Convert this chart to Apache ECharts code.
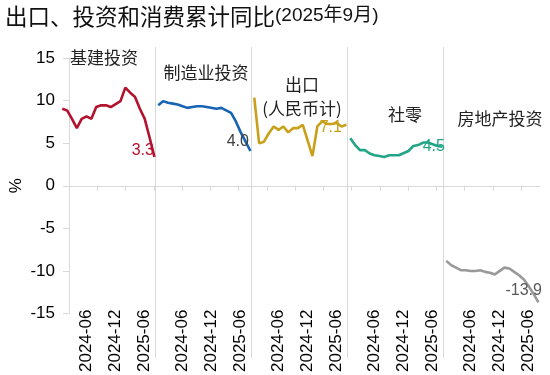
<!DOCTYPE html>
<html><head><meta charset="utf-8">
<script src="https://cdn.jsdelivr.net/npm/echarts@6/dist/echarts.min.js"></script>
<style>html,body{margin:0;padding:0;background:#fff}#c{width:550px;height:375px}</style>
</head><body><div id="c"></div>
<script>
// ---- data ----
const months = ['2024-02','2024-03','2024-04','2024-05','2024-06','2024-07','2024-08','2024-09','2024-10','2024-11','2024-12',
                '2025-02','2025-03','2025-04','2025-05','2025-06','2025-07','2025-08','2025-09'];
const infraInv      = [9.0, 8.8, 7.8, 6.7, 7.8, 8.1, 7.8, 9.2, 9.4, 9.4, 9.2, 9.9, 11.5, 10.9, 10.4, 9.0, 7.8, 5.6, 3.3];
const mfgInv        = [9.4, 9.9, 9.7, 9.6, 9.5, 9.3, 9.1, 9.2, 9.3, 9.3, 9.2, 9.0, 9.1, 8.8, 8.5, 7.5, 6.2, 5.1, 4.0];
const exportsRmb    = [10.3, 4.9, 5.1, 6.1, 6.9, 6.5, 6.9, 6.2, 6.7, 6.7, 7.1, 3.4, 6.9, 7.5, 7.2, 7.2, 7.3, 6.9, 7.1];
const retailSales   = [5.5, 4.7, 4.1, 4.1, 3.7, 3.5, 3.4, 3.3, 3.5, 3.5, 3.5, 4.0, 4.6, 4.7, 5.0, 5.0, 4.8, 4.6, 4.5];
const realEstateInv = [-9.0, -9.5, -9.8, -10.1, -10.1, -10.2, -10.2, -10.1, -10.3, -10.4, -10.6, -9.8, -9.9, -10.3, -10.7, -11.2, -12.0, -12.9, -13.9];
const panelNames = ['基建投资', '制造业投资', '出口\n(人民币计)', '社零', '房地产投资'];
const xTickLabels = ['2024-06', '2024-12', '2025-06'];
const yMin = -15, yMax = 15, yStep = 5;
const titleMain = '出口、投资和消费累计同比';
const titleDate = '(2025年9月)';

// ---- styles / layout ----
const seriesList = [infraInv, mfgInv, exportsRmb, retailSales, realEstateInv];
const colors = ['#B3122E', '#1764B4', '#C9A01A', '#22A587', '#999999'];
const endLabelColors = ['#B3122E', '#404040', '#C9A01A', '#22A587', '#595959'];
const endLabelOffsets = [[0, -6], [-1, -9], [-4, 3], [3, 0], [4, -12]];
const nameCenters = [[104, 58], [206, 73], [302, 97], [405, 115], [500, 119]];
const PLOT_LEFT = 60, PANEL_W = 96, TOP = 58, HEIGHT = 255.5;
const PX_PER_MONTH = 4.85, X_MIN = 0.53, LABEL_SHIFT = 0.9;
const AX = '#d9d9d9';
const LAT = '"Liberation Sans", Arial, "Noto Sans CJK SC", sans-serif';
const CJK = '"Noto Sans CJK SC", sans-serif';

const toIdx = s => { const [y, m] = s.split('-').map(Number); return (y - 2024) * 12 + m - 1; };

const grids = [], xAxes = [], yAxes = [], series = [], graphics = [];
for (let i = 0; i < 5; i++) {
  grids.push({ left: PLOT_LEFT + i * PANEL_W, top: TOP, width: PANEL_W, height: HEIGHT });
  xAxes.push({
    gridIndex: i, type: 'value', min: X_MIN, max: X_MIN + PANEL_W / PX_PER_MONTH,
    axisLine: { show: false, onZero: false }, axisTick: { show: false }, splitLine: { show: false },
    axisLabel: {
      customValues: xTickLabels.map(t => toIdx(t) + LABEL_SHIFT),
      formatter: v => { const t = xTickLabels.find(t => Math.abs(toIdx(t) + LABEL_SHIFT - v) < 0.01); return t || ''; },
      rotate: 90, fontSize: 17, color: '#000', margin: -2, fontFamily: LAT
    }
  });
  yAxes.push({ gridIndex: i, type: 'value', min: yMin, max: yMax, show: false });
  const vals = seriesList[i];
  const data = months.map((m, k) => [toIdx(m), vals[k]]);
  const last = data[data.length - 1];
  series.push({
    type: 'line', xAxisIndex: i, yAxisIndex: i, data, symbol: 'none', showSymbol: false,
    lineStyle: { width: 2.6, color: colors[i] }, itemStyle: { color: colors[i] }, z: 3,
    markPoint: {
      symbol: 'circle', symbolSize: 1, silent: true, itemStyle: { color: 'rgba(0,0,0,0)' },
      data: [{ coord: last, value: last[1] }],
      label: { show: true, position: 'left', distance: 0, offset: endLabelOffsets[i],
        formatter: p => p.value.toFixed(1), color: endLabelColors[i], fontSize: 16, fontFamily: LAT }
    }
  });
  graphics.push({
    type: 'text', x: nameCenters[i][0], y: nameCenters[i][1], z: 10,
    style: { text: panelNames[i], font: '17px ' + CJK, fill: '#222', align: 'center', textAlign: 'center',
      verticalAlign: 'middle', textVerticalAlign: 'middle', lineHeight: 24 }
  });
  if (i > 0) {
    const x = PLOT_LEFT + i * PANEL_W - 0.5;
    graphics.push({ type: 'line', z: -1, shape: { x1: x, y1: 47, x2: x, y2: 358 }, style: { stroke: AX, lineWidth: 1 } });
  }
}
// overlay grid: shared y axis and zero line with ticks
grids.push({ left: PLOT_LEFT, top: TOP, width: PANEL_W * 5, height: HEIGHT });
const overlayMax = 100, tickStep = 6;
const tickVals = []; for (let v = tickStep; v < overlayMax; v += tickStep) tickVals.push(v);
xAxes.push({
  gridIndex: 5, type: 'value', min: 0, max: overlayMax, interval: tickStep,
  axisLine: { show: true, onZero: true, lineStyle: { color: AX, width: 1 } },
  axisTick: { show: true, customValues: tickVals, length: 5, lineStyle: { color: AX } },
  axisLabel: { show: false }, splitLine: { show: false }
});
yAxes.push({
  gridIndex: 5, type: 'value', min: yMin, max: yMax, interval: yStep,
  axisLine: { show: true, lineStyle: { color: AX } },
  axisTick: { show: true, length: 6, lineStyle: { color: AX } },
  axisLabel: { fontSize: 17, color: '#000', margin: 14, fontFamily: LAT },
  splitLine: { show: false },
  name: '%', nameLocation: 'middle', nameGap: 44, nameMoveOverlap: false,
  nameTextStyle: { fontSize: 17, color: '#000', fontFamily: LAT }
});

const chart = echarts.init(document.getElementById('c'), null, { renderer: 'canvas' });
chart.setOption({
  animation: false,
  backgroundColor: '#fff',
  title: {
    left: 0, top: 0, padding: [5, 0, 0, 5],
    text: '{a|' + titleMain + '}{b|' + titleDate + '}',
    textStyle: { fontWeight: 'normal', rich: {
      a: { fontFamily: CJK, fontSize: 22.5, fontWeight: 'normal', color: '#111' },
      b: { fontFamily: LAT, fontSize: 19, fontWeight: 'normal', color: '#111' }
    } }
  },
  grid: grids, xAxis: xAxes, yAxis: yAxes, series, graphic: graphics
});
</script></body></html>
